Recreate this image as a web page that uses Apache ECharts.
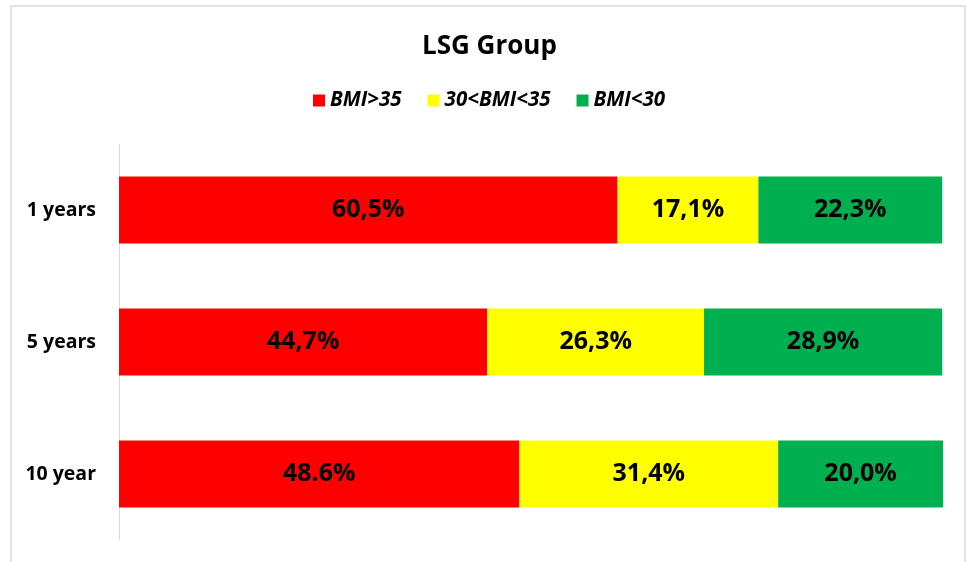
<!DOCTYPE html>
<html>
<head>
<meta charset="utf-8">
<script src="https://cdn.jsdelivr.net/npm/echarts@6/dist/echarts.min.js"></script>
<style>
html,body{margin:0;padding:0;background:#fff;}
#chart{width:968px;height:562px;}
</style>
</head>
<body>
<div id="chart"></div>
<script>
var categories = ['1 years', '5 years', '10 year'];
var seriesNames = ['BMI>35', '30<BMI<35', 'BMI<30'];
var bmiOver35 = [60.5, 44.7, 48.6];
var bmi30to35 = [17.1, 26.3, 31.4];
var bmiUnder30 = [22.3, 28.9, 20.0];
var labelsOver35 = ['60,5%', '44,7%', '48.6%'];
var labels30to35 = ['17,1%', '26,3%', '31,4%'];
var labelsUnder30 = ['22,3%', '28,9%', '20,0%'];
var colors = ['#FF0000', '#FFFF00', '#00B050'];

var font = '"Open Sans", "Liberation Sans", sans-serif';

function makeSeries(name, values, labels, color) {
  return {
    name: name,
    type: 'bar',
    stack: 'total',
    barWidth: 67,
    data: values,
    itemStyle: { color: color },
    label: {
      show: true,
      position: 'inside',
      color: '#000',
      fontFamily: font,
      fontWeight: 'bold',
      fontSize: 25,
      formatter: function (p) { return labels[p.dataIndex]; }
    },
    emphasis: { disabled: true },
    animation: false
  };
}

var chart = echarts.init(document.getElementById('chart'), null, { renderer: 'canvas' });
chart.setOption({
  backgroundColor: '#fff',
  animation: false,
  title: {
    text: 'LSG Group',
    left: 417,
    top: 27,
    textStyle: { fontFamily: font, fontWeight: 'bold', fontSize: 26, color: '#000', lineHeight: 30 }
  },
  legend: {
    data: seriesNames,
    left: 308,
    top: 84,
    itemWidth: 12,
    itemHeight: 12,
    itemGap: 26,
    icon: 'rect',
    textStyle: { fontFamily: font, fontWeight: 'bold', fontStyle: 'italic', fontSize: 20.5, color: '#000', lineHeight: 23 }
  },
  grid: { left: 119, right: 25, top: 144, bottom: 22, containLabel: false },
  xAxis: {
    type: 'value', min: 0, max: 100, show: false
  },
  yAxis: {
    type: 'category',
    data: categories,
    inverse: true,
    axisLine: { show: true, lineStyle: { color: '#d9d9d9', width: 1 } },
    axisTick: { show: false },
    splitLine: { show: false },
    axisLabel: { margin: 23, color: '#000', fontFamily: font, fontWeight: 'bold', fontSize: 19.5 }
  },
  graphic: [{
    type: 'rect',
    shape: { x: 11, y: 6, width: 954, height: 600 },
    style: { fill: null, stroke: '#d9d9d9', lineWidth: 1.5 },
    silent: true
  }],
  series: [
    makeSeries(seriesNames[0], bmiOver35, labelsOver35, colors[0]),
    makeSeries(seriesNames[1], bmi30to35, labels30to35, colors[1]),
    makeSeries(seriesNames[2], bmiUnder30, labelsUnder30, colors[2])
  ]
});
</script>
</body>
</html>
